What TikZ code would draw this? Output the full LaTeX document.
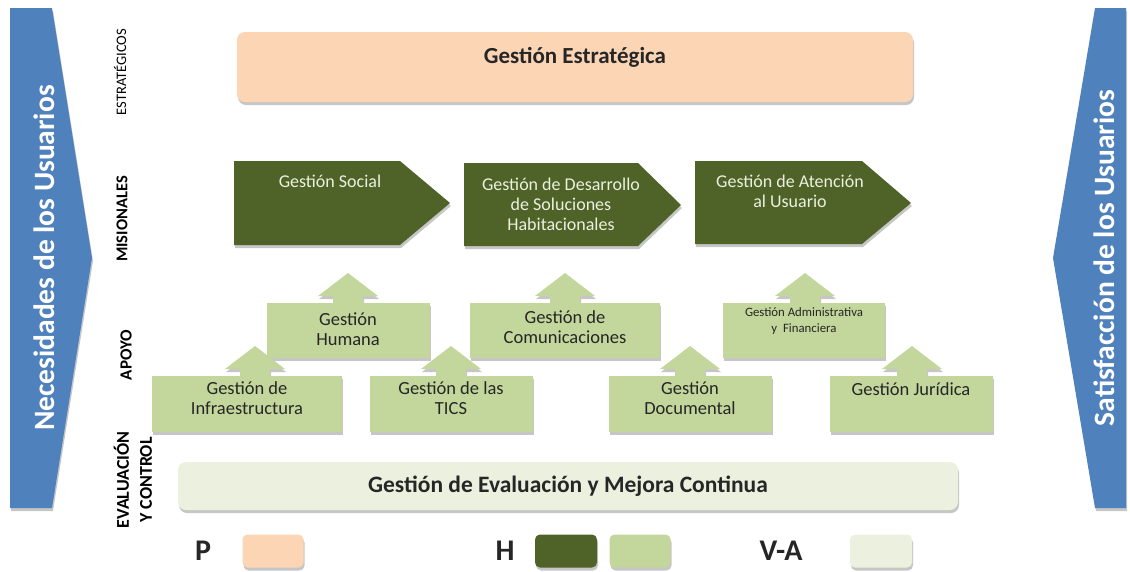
\documentclass[tikz,border=0pt]{standalone}
\usepackage{fontspec}
\setmainfont{Carlito}
\usetikzlibrary{shadows}
\definecolor{peach}{HTML}{FCD5B5}
\definecolor{dgreen}{HTML}{4F6228}
\definecolor{lgreen}{HTML}{C3D69B}
\definecolor{pale}{HTML}{EBF1DE}
\definecolor{sblue}{HTML}{4F81BD}
\definecolor{txtdark}{HTML}{262626}
\newcommand\uparrowshape[2]{%
  \fill[lgreen,shd] (#1,#2) -- ++(30,23) -- ++(-15,0) -- ++(0,8) -- ++(-30,0) -- ++(0,-8) -- ++(-15,0) -- cycle;}
\begin{document}
\begin{tikzpicture}[x=1pt,y=-1pt,
  shd/.style={drop shadow={shadow xshift=1pt,shadow yshift=-3pt,fill=black!50,opacity=.45}},
  lbox/.style={fill=lgreen,shd,inner sep=0pt},
  ltext/.style={align=center,text=txtdark,font=\fontsize{18.5}{20}\selectfont},
  mtext/.style={align=center,text=pale,font=\fontsize{18}{20}\selectfont},
  cat/.style={rotate=90,align=center},
  legend/.style={font=\fontsize{30}{32}\selectfont\bfseries,text=txtdark}
]
\useasboundingbox (0,0) rectangle (1130,571);

% side arrows
\fill[sblue,shd] (10,8) -- (52,8) -- (92,258) -- (52,508) -- (10,508) -- cycle;
\node[rotate=90,text=white,font=\fontsize{29.5}{32}\selectfont\bfseries] (need) at (44,258) {Necesidades de los Usuarios};
\fill[sblue,shd] (1126,8) -- (1095,8) -- (1053,258) -- (1095,508) -- (1126,508) -- cycle;
\node[rotate=90,text=white,font=\fontsize{29.5}{32}\selectfont\bfseries] (sat) at (1104,258) {Satisfacción de los Usuarios};

% category labels
\node[cat,font=\fontsize{14.5}{16}\selectfont] (cest) at (120,72) {ESTRATÉGICOS};
\node[cat,font=\fontsize{16.5}{18}\selectfont\bfseries] (cmis) at (122,219) {MISIONALES};
\node[cat,font=\fontsize{17}{18}\selectfont\bfseries] (capo) at (126,355) {APOYO};
\node[cat,font=\fontsize{18}{23}\selectfont\bfseries] (ceva) at (133,480) {EVALUACIÓN\\Y CONTROL};

% strategic
\node[fill=peach,rounded corners=8pt,shd,minimum width=676,minimum height=70,inner sep=0pt] (estbox) at (575,67) {};
\node[font=\fontsize{23}{26}\selectfont\bfseries,text=txtdark] (est) at (575,57) {Gestión Estratégica};

% misional arrows
\fill[dgreen,shd] (234,161) -- (400,161) -- (450,203) -- (400,245) -- (234,245) -- cycle;
\node[mtext] (soc) at (330,181) {Gestión Social};
\fill[dgreen,shd] (464,163) -- (638,163) -- (681,205) -- (638,246) -- (464,246) -- cycle;
\node[mtext] (des) at (561,204) {Gestión de Desarrollo\\de Soluciones\\Habitacionales};
\fill[dgreen,shd] (695,161) -- (862,161) -- (911,203) -- (862,244) -- (695,244) -- cycle;
\node[mtext] (ate) at (790,191) {Gestión de Atención\\al Usuario};

% support upper row
\uparrowshape{348}{273}
\node[lbox,minimum width=163,minimum height=55] (humbox) at (348,330) {};
\node[ltext] (hum) at (348,329) {Gestión\\Humana};
\uparrowshape{565}{273}
\node[lbox,minimum width=190,minimum height=55] (combox) at (565,330) {};
\node[ltext] (com) at (565,327) {Gestión de\\Comunicaciones};
\uparrowshape{805}{273}
\node[lbox,minimum width=162,minimum height=55] (admbox) at (804,330) {};
\node[ltext,font=\fontsize{12.8}{16}\selectfont] (adm) at (804,321) {Gestión Administrativa\\y~~Financiera};

% support lower row
\uparrowshape{255}{346}
\node[lbox,minimum width=190,minimum height=56] (infbox) at (247,404) {};
\node[ltext] (inf) at (247,398) {Gestión de\\Infraestructura};
\uparrowshape{451}{346}
\node[lbox,minimum width=163,minimum height=56] (ticbox) at (451,404) {};
\node[ltext] (tic) at (451,398) {Gestión de las\\TICS};
\uparrowshape{690}{346}
\node[lbox,minimum width=163,minimum height=56] (docbox) at (690,404) {};
\node[ltext] (doc) at (690,398) {Gestión\\Documental};
\uparrowshape{912}{346}
\node[lbox,minimum width=163,minimum height=56] (jurbox) at (911,404) {};
\node[ltext] (jur) at (911,389) {Gestión Jurídica};

% evaluation
\node[fill=pale,rounded corners=8pt,shd,minimum width=780,minimum height=48,inner sep=0pt] (evabox) at (568,486) {};
\node[font=\fontsize{23.5}{26}\selectfont\bfseries,text=txtdark] (eva) at (568,486) {Gestión de Evaluación y Mejora Continua};

% legend
\node[legend] (lp) at (203,551) {P};
\node[fill=peach,rounded corners=5pt,shd,minimum width=61,minimum height=33,inner sep=0pt] (lpbox) at (273,551) {};
\node[legend] (lh) at (505,551) {H};
\node[fill=dgreen,rounded corners=5pt,shd,minimum width=62,minimum height=33,inner sep=0pt] (lhbox1) at (566,551) {};
\node[fill=lgreen,rounded corners=5pt,shd,minimum width=61,minimum height=33,inner sep=0pt] (lhbox2) at (640,551) {};
\node[legend] (lva) at (781,551) {V-A};
\node[fill=pale,rounded corners=5pt,shd,minimum width=62,minimum height=33,inner sep=0pt] (lvabox) at (881,551) {};
\end{tikzpicture}
\end{document}
